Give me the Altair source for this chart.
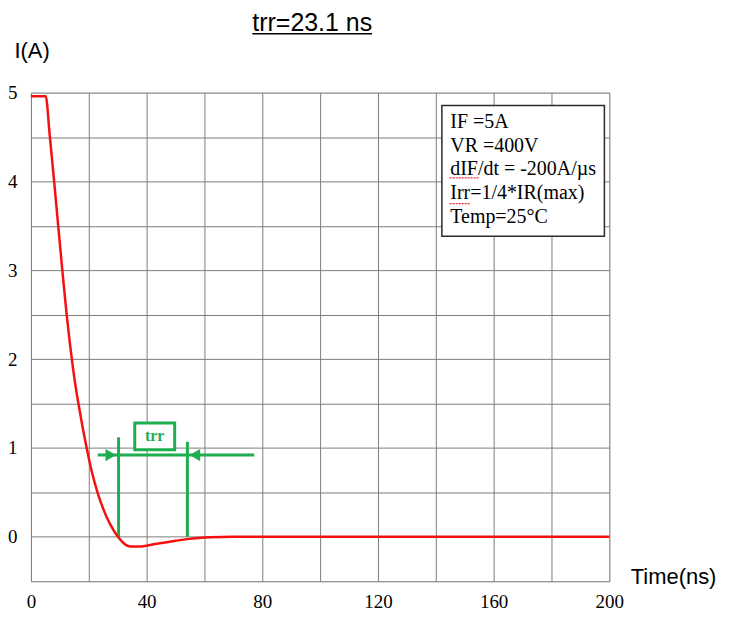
import altair as alt
import pandas as pd

# ---- data ----
time_ns = [0, 5.1, 6.5, 8.0, 9.4, 10.8, 11.6, 12.5, 13.5, 14.5, 15.6, 16.8, 18.0, 19.4, 21.0, 23.2,
           26.1, 28.3, 30.1, 32.0, 34.5, 37.0, 40.0, 43.0, 47.0, 50.0, 54.0, 58.0, 62.0, 70.0, 80.0, 200.0]
current_a = [4.96, 4.96, 4.52, 4.01, 3.51, 3.02, 2.75, 2.46, 2.17, 1.91, 1.66, 1.43, 1.21, 0.98, 0.74, 0.48,
             0.23, 0.09, 0.00, -0.07, -0.11, -0.11, -0.10, -0.08, -0.06, -0.045, -0.026, -0.013, -0.005, 0.0, 0.0, 0.0]

x_grid = list(range(0, 201, 20))
y_grid = [-0.5, 0, 0.5, 1, 1.5, 2, 2.5, 3, 3.5, 4, 4.5, 5]

trr_start, trr_end = 30.3, 54.1
legend_lines = ["IF =5A", "VR =400V", "dIF/dt = -200A/\u00b5s", "Irr=1/4*IR(max)", "Temp=25\u00b0C"]
legend_y = [4.674, 4.404, 4.135, 3.865, 3.596]
title_text = "trr=23.1 ns"

RED = "#f51010"
GREEN = "#1fae4f"
GRID = "#7d7d7d"
SERIF = "Liberation Serif"
SANS = "Liberation Sans"

curve = pd.DataFrame({"t": time_ns, "i": current_a})

xs = alt.Scale(domain=[0, 200], nice=False, zero=False)
ys = alt.Scale(domain=[-0.5, 5], nice=False, zero=False)

x_axis = alt.Axis(values=x_grid, labelExpr="datum.value % 40 == 0 ? format(datum.value, 'd') : ''",
                  grid=True, gridColor=GRID, gridWidth=1, domain=False, ticks=False,
                  labelFont=SERIF, labelFontSize=19, labelColor="black", labelPadding=11,
                  labelFlush=False, labelOverlap=False,
                  title="Time(ns)", titleFont=SANS, titleFontSize=22, titleFontWeight="normal",
                  titleColor="black", titleX=601, titleY=-5, titleAlign="left", titleBaseline="middle")
y_axis = alt.Axis(values=y_grid, labelExpr="datum.value % 1 == 0 ? format(datum.value, 'd') : ''",
                  grid=True, gridColor=GRID, gridWidth=1, domain=False, ticks=False,
                  labelFont=SERIF, labelFontSize=19, labelColor="black", labelPadding=14,
                  labelFlush=False, labelOverlap=False,
                  title="I(A)", titleFont=SANS, titleFontSize=22, titleFontWeight="normal",
                  titleColor="black", titleAngle=0, titleX=-17, titleY=-42,
                  titleAlign="left", titleBaseline="middle")

line = alt.Chart(curve).mark_line(color=RED, strokeWidth=2.5, interpolate="monotone").encode(
    x=alt.X("t:Q", scale=xs, axis=x_axis),
    y=alt.Y("i:Q", scale=ys, axis=y_axis),
)

# green trr markers
vlines = pd.DataFrame({"t": [trr_start, trr_end], "y0": [0, 0], "y1": [1.12, 1.07]})
vrule = alt.Chart(vlines).mark_rule(color=GREEN, strokeWidth=3).encode(
    x=alt.X("t:Q", scale=xs), y=alt.Y("y0:Q", scale=ys), y2="y1:Q")

hline = pd.DataFrame({"a": [23.1], "b": [77.2], "y": [0.92]})
hrule = alt.Chart(hline).mark_rule(color=GREEN, strokeWidth=3).encode(
    x=alt.X("a:Q", scale=xs), x2="b:Q", y=alt.Y("y:Q", scale=ys))

heads = pd.DataFrame({"t": [27.6, 56.7], "y": [0.92, 0.92], "s": ["triangle-right", "triangle-left"]})
arrow = alt.Chart(heads).mark_point(filled=True, color=GREEN, opacity=1, size=150).encode(
    x=alt.X("t:Q", scale=xs), y=alt.Y("y:Q", scale=ys),
    shape=alt.Shape("s:N", scale=alt.Scale(domain=["triangle-right", "triangle-left"],
                                           range=["triangle-right", "triangle-left"]), legend=None))

trr_box_df = pd.DataFrame({"a": [35.9], "b": [49.7], "y0": [0.98], "y1": [1.28], "tx": [42.8], "ty": [1.14], "lab": ["trr"]})
trr_box = alt.Chart(trr_box_df).mark_rect(fill="white", stroke=GREEN, strokeWidth=3).encode(
    x=alt.X("a:Q", scale=xs), x2="b:Q", y=alt.Y("y0:Q", scale=ys), y2="y1:Q")
trr_txt = alt.Chart(trr_box_df).mark_text(font=SERIF, fontSize=16, fontWeight="bold", color=GREEN,
                                          baseline="middle", align="center").encode(
    x=alt.X("tx:Q", scale=xs), y=alt.Y("ty:Q", scale=ys), text="lab:N")

# condition box
box_df = pd.DataFrame({"a": [142.1], "b": [198.3], "y0": [3.382], "y1": [4.854]})
box = alt.Chart(box_df).mark_rect(fill="white", stroke="#2b2b2b", strokeWidth=1.5).encode(
    x=alt.X("a:Q", scale=xs), x2="b:Q", y=alt.Y("y0:Q", scale=ys), y2="y1:Q")
leg_df = pd.DataFrame({"t": [145.0] * len(legend_lines), "y": legend_y, "txt": legend_lines})
leg = alt.Chart(leg_df).mark_text(font=SERIF, fontSize=20, color="black", align="left",
                                  baseline="middle").encode(
    x=alt.X("t:Q", scale=xs), y=alt.Y("y:Q", scale=ys), text="txt:N")
squig_df = pd.DataFrame({"a": [144.8, 144.8], "b": [155.0, 152.0], "y": [4.04, 3.75]})
squig = alt.Chart(squig_df).mark_rule(color="#e03030", strokeWidth=1.2, strokeDash=[2, 1]).encode(
    x=alt.X("a:Q", scale=xs), x2="b:Q", y=alt.Y("y:Q", scale=ys))

# top title with underline
tdf = pd.DataFrame({"txt": [title_text]})
title = alt.Chart(tdf).mark_text(font=SANS, fontSize=25, color="black", align="left",
                                 baseline="middle").encode(
    x=alt.value(222), y=alt.value(-70), text="txt:N")
underline = alt.Chart(tdf).mark_rule(color="black", strokeWidth=1.5).encode(
    x=alt.value(222), x2=alt.value(342), y=alt.value(-59))

chart = alt.layer(box, leg, squig, vrule, hrule, arrow, trr_box, trr_txt, line, title, underline).properties(
    width=580, height=490,
    padding={"left": 23, "top": 84, "right": 112, "bottom": 33},
    autosize=alt.AutoSizeParams(type="none"),
).configure_view(stroke=None).configure(background="white")

chart.save("out.html", embed_options={"renderer": "svg", "actions": False})
